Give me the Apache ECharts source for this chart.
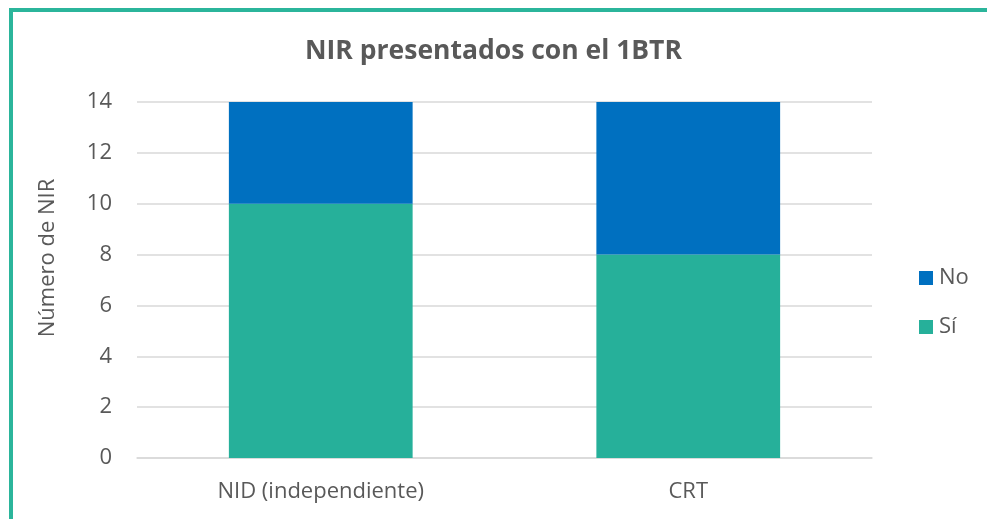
<!DOCTYPE html>
<html>
<head>
<meta charset="utf-8">
<script src="https://cdn.jsdelivr.net/npm/echarts@6/dist/echarts.min.js"></script>
<style>
  html, body { margin: 0; padding: 0; background: #fff; }
  #chart { width: 987px; height: 519px; }
</style>
</head>
<body>
<div id="chart"></div>
<script>
const categories = ['NID (independiente)', 'CRT'];
const siValues = [10, 8];
const noValues = [4, 6];
const yTicks = { min: 0, max: 14, step: 2 };

const font = '"Open Sans", sans-serif';
const chart = echarts.init(document.getElementById('chart'));

chart.setOption({
  backgroundColor: '#fff',
  textStyle: { fontFamily: font },
  title: {
    text: 'NIR presentados con el 1BTR',
    left: 'center',
    top: 33,
    textStyle: { fontFamily: font, fontSize: 26.5, fontWeight: 'bold', color: '#595959' }
  },
  legend: {
    orient: 'vertical',
    left: 914,
    top: 262,
    itemWidth: 14,
    itemHeight: 14,
    itemGap: 27,
    icon: 'rect',
    textStyle: { fontFamily: font, fontSize: 22, color: '#595959', padding: [0, 0, 0, 1] },
    data: ['No', 'Sí']
  },
  grid: { left: 137, right: 115, top: 102, bottom: 61 },
  xAxis: {
    type: 'category',
    data: categories,
    axisTick: { show: false },
    axisLine: { lineStyle: { color: '#d9d9d9', width: 1.5 } },
    axisLabel: { fontFamily: font, fontSize: 22, color: '#595959', margin: 23 }
  },
  yAxis: {
    type: 'value',
    min: yTicks.min,
    max: yTicks.max,
    interval: yTicks.step,
    name: 'Número de NIR',
    nameLocation: 'middle',
    nameGap: 78,
    nameRotate: 90,
    nameTextStyle: { fontFamily: font, fontSize: 22, color: '#595959', padding: [0, 0, 0, 44] },
    axisLine: { show: false },
    axisTick: { show: false },
    axisLabel: { fontFamily: font, fontSize: 22, color: '#595959', margin: 25 },
    splitLine: { lineStyle: { color: '#d9d9d9', width: 1.5 } }
  },
  series: [
    {
      name: 'Sí',
      type: 'bar',
      stack: 'total',
      barWidth: '50%',
      itemStyle: { color: '#26B09A' },
      data: siValues
    },
    {
      name: 'No',
      type: 'bar',
      stack: 'total',
      barWidth: '50%',
      itemStyle: { color: '#0070C0' },
      data: noValues
    }
  ],
  graphic: [
    { type: 'line', shape: { x1: 11, y1: 10, x2: 11, y2: 519 }, style: { stroke: '#2BB59B', lineWidth: 4 } },
    { type: 'line', shape: { x1: 9, y1: 10, x2: 987, y2: 10 }, style: { stroke: '#2BB59B', lineWidth: 4 } }
  ]
});
</script>
</body>
</html>
